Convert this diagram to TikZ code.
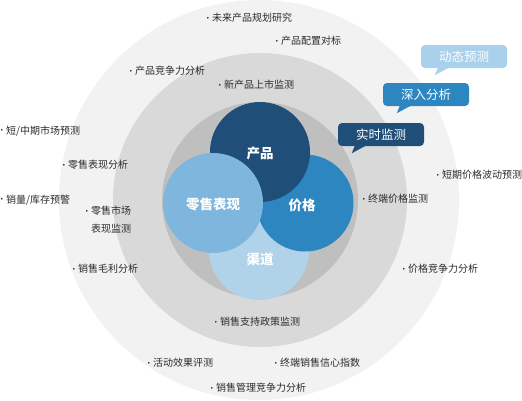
\documentclass[tikz,border=0pt]{standalone}
\usepackage{fontspec}
\setmainfont{Noto Sans CJK SC}
\newfontfamily\symf{DejaVu Sans}
\definecolor{ringA}{HTML}{F2F2F2}
\definecolor{ringB}{HTML}{D9D9D9}
\definecolor{ringC}{HTML}{BFBFBF}
\definecolor{cprod}{HTML}{1F4E79}
\definecolor{cprice}{HTML}{2E86C1}
\definecolor{cretail}{HTML}{7EB6DE}
\definecolor{cchan}{HTML}{B0D3EA}
\definecolor{cdyn}{HTML}{A9D1EC}
\definecolor{ctxt}{HTML}{2B2B2B}
\newcommand\bul{\raisebox{1.6pt}{\symf\fontsize{6}{6}\selectfont •}\hspace{2.5pt}}
\tikzset{
  disc/.style={circle, inner sep=0pt, draw=none},
  item/.style={anchor=west, inner sep=0pt, text=ctxt, font=\fontsize{10}{12}\selectfont},
  core/.style={text=white, inner sep=0pt, font=\fontsize{13.5}{14}\selectfont\bfseries},
  bubble/.style={rectangle, rounded corners=4pt, minimum width=86pt, minimum height=23pt,
    inner sep=0pt, text=white, font=\fontsize{12.5}{13}\selectfont},
}
\begin{document}
\begin{tikzpicture}[x=1pt,y=-1pt]
\useasboundingbox (0,0) rectangle (522,400);
% rings
\node[disc, fill=ringA, minimum size=400pt] (ringouter) at (259,200) {};
\node[disc, fill=ringB, minimum size=294pt] (ringmid) at (260,200) {};
\node[disc, fill=ringC, minimum size=196pt] (ringinner) at (260,200) {};
% core circles
\node[disc, fill=cchan, minimum size=100pt] (chan) at (259,250) {};
\node[disc, fill=cprice, minimum size=97pt] (price) at (305,203) {};
\node[disc, fill=cprod, minimum size=100pt] (prod) at (260,152) {};
\node[disc, fill=cretail, minimum size=100pt] (retail) at (213,203) {};
\node[core] (lprod) at (260,153) {产品};
\node[core] (lprice) at (302,205) {价格};
\node[core] (lretail) at (213,204) {零售表现};
\node[core] (lchan) at (260,259) {渠道};
% bubbles
\node[bubble, fill=cdyn] (bdyn) at (464,56.5) {动态预测};
\fill[cdyn] ([xshift=14pt,yshift=-7pt]bdyn.south west) -- ([xshift=17pt,yshift=0.5pt]bdyn.south west) -- ([xshift=28pt,yshift=0.5pt]bdyn.south west) -- cycle;
\node[bubble, fill=cprice] (bdeep) at (426,94.5) {深入分析};
\fill[cprice] ([xshift=14pt,yshift=-7pt]bdeep.south west) -- ([xshift=17pt,yshift=0.5pt]bdeep.south west) -- ([xshift=28pt,yshift=0.5pt]bdeep.south west) -- cycle;
\node[bubble, fill=cprod] (breal) at (381,134.5) {实时监测};
\fill[cprod] ([xshift=14pt,yshift=-7pt]breal.south west) -- ([xshift=17pt,yshift=0.5pt]breal.south west) -- ([xshift=28pt,yshift=0.5pt]breal.south west) -- cycle;
% items
\node[item] (i1) at (206,18) {\bul 未来产品规划研究};
\node[item] (i2) at (275,41) {\bul 产品配置对标};
\node[item] (i3) at (129,71) {\bul 产品竞争力分析};
\node[item] (i4) at (218,85) {\bul 新产品上市监测};
\node[item] (i5) at (0,131) {\bul 短/中期市场预测};
\node[item] (i6) at (62,165) {\bul 零售表现分析};
\node[item] (i7) at (0,200) {\bul 销量/库存预警};
\node[item, align=left, font=\fontsize{10}{18}\selectfont] (i8) at (85,220) {\bul 零售市场\\\hphantom{\bul}表现监测};
\node[item] (i9) at (72,269) {\bul 销售毛利分析};
\node[item] (i10) at (362,199) {\bul 终端价格监测};
\node[item] (i11) at (436,175) {\bul 短期价格波动预测};
\node[item] (i12) at (402,269) {\bul 价格竞争力分析};
\node[item] (i13) at (214,322) {\bul 销售支持政策监测};
\node[item] (i14) at (147,363) {\bul 活动效果评测};
\node[item] (i15) at (274,363) {\bul 终端销售信心指数};
\node[item] (i16) at (210,388) {\bul 销售管理竞争力分析};
\end{tikzpicture}
\end{document}
